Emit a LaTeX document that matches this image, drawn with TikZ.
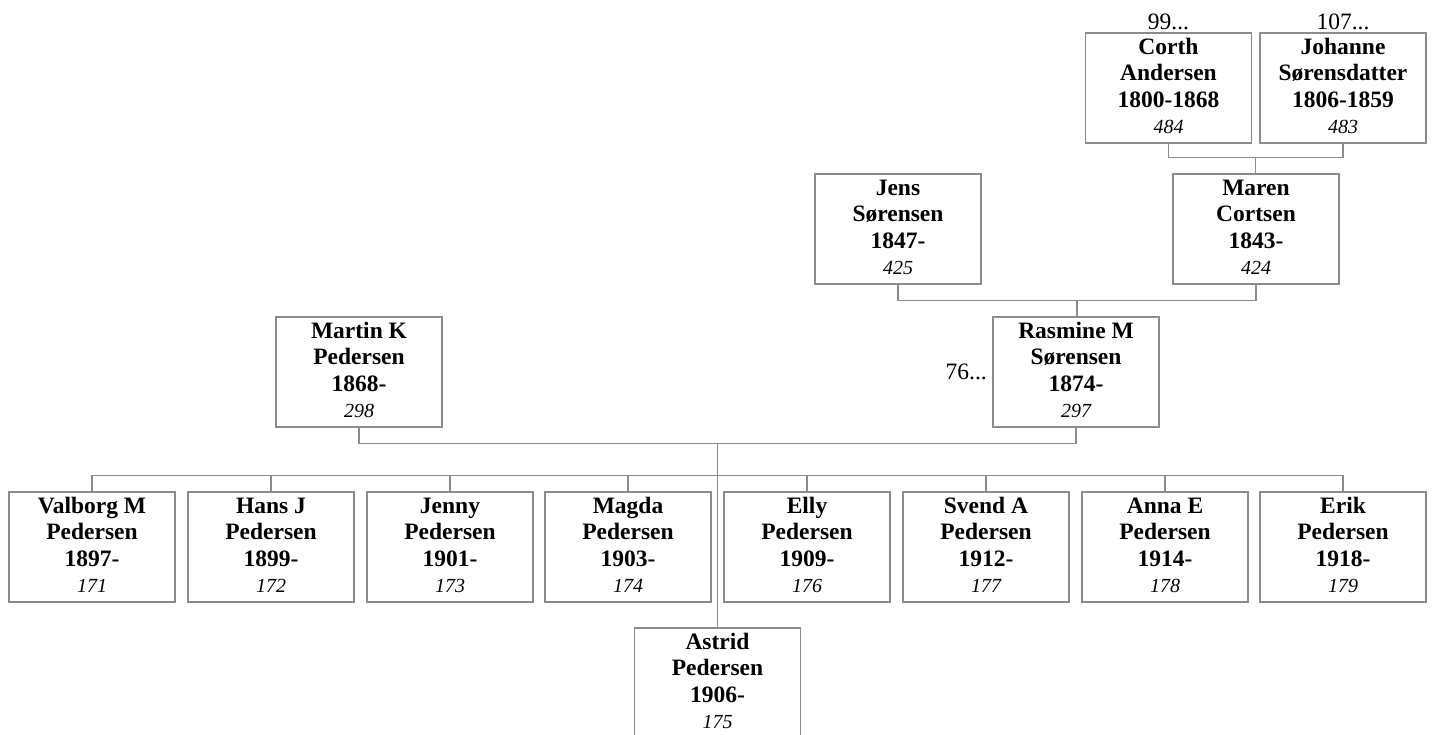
\documentclass[tikz,border=0pt]{standalone}
\usepackage{fontspec}
\setmainfont{Liberation Serif}
\usetikzlibrary{calc}
\definecolor{linegray}{RGB}{140,140,140}
\newcommand\namefont{\fontsize{23.5}{26.5}\selectfont\bfseries}
\newcommand\pfirst{\rule{0pt}{16pt}}
\newcommand\pnum[1]{{\fontsize{20}{26.5}\selectfont\mdseries\itshape #1\rule[-4pt]{0pt}{0pt}}}
\tikzset{
  person/.style={draw=linegray, line width=1.3pt, fill=white, minimum width=166pt,
    minimum height=110pt, inner sep=0pt, align=center, font=\namefont},
  conn/.style={draw=linegray, line width=1.3pt},
  ref/.style={inner sep=0pt, font=\fontsize{23.5}{26.5}\selectfont}
}
\begin{document}
\begin{tikzpicture}[x=1pt,y=-1pt]
\useasboundingbox (0,0) rectangle (1432,734);
\clip (0,0) rectangle (1432,734);
% row 0
\node[person] (corth) at (1168.5,88) {\pfirst Corth\\Andersen\\1800-1868\\\pnum{484}};
\node[person] (johanne) at (1343,88) {\pfirst Johanne\\Sørensdatter\\1806-1859\\\pnum{483}};
\node[ref, anchor=base] (r99) at (1168.5,29) {99...};
\node[ref, anchor=base] (r107) at (1343,29) {107...};
% row 1
\node[person] (jens) at (898,229) {\pfirst Jens\\Sørensen\\1847-\\\pnum{425}};
\node[person] (maren) at (1256,229) {\pfirst Maren\\Cortsen\\1843-\\\pnum{424}};
% row 2
\node[person] (martin) at (359,372) {\pfirst Martin K\\Pedersen\\1868-\\\pnum{298}};
\node[person] (rasmine) at (1076,372) {\pfirst Rasmine M\\Sørensen\\1874-\\\pnum{297}};
\node[ref, anchor=base east] (r76) at (987,379) {76...};
% children
\node[person] (valborg) at (92,547) {\pfirst Valborg M\\Pedersen\\1897-\\\pnum{171}};
\node[person] (hans) at (271,547) {\pfirst Hans J\\Pedersen\\1899-\\\pnum{172}};
\node[person] (jenny) at (450,547) {\pfirst Jenny\\Pedersen\\1901-\\\pnum{173}};
\node[person] (magda) at (628,547) {\pfirst Magda\\Pedersen\\1903-\\\pnum{174}};
\node[person] (elly) at (807,547) {\pfirst Elly\\Pedersen\\1909-\\\pnum{176}};
\node[person] (svend) at (986,547) {\pfirst Svend A\\Pedersen\\1912-\\\pnum{177}};
\node[person] (anna) at (1165,547) {\pfirst Anna E\\Pedersen\\1914-\\\pnum{178}};
\node[person] (erik) at (1343,547) {\pfirst Erik\\Pedersen\\1918-\\\pnum{179}};
\node[person] (astrid) at (717.5,683) {\pfirst Astrid\\Pedersen\\1906-\\\pnum{175}};
% connectors: Corth + Johanne -> Maren
\draw[conn] (corth.south) -- ++(0,14) -| (johanne.south);
\coordinate (c0) at ($(corth.south)!0.5!(johanne.south)+(0,14)$);
\draw[conn] (c0) -- (c0 |- maren.north);
% Jens + Maren -> Rasmine
\draw[conn] (jens.south) -- ++(0,16) -| (maren.south);
\coordinate (c1) at ($(jens.south)!0.5!(maren.south)+(0,16)$);
\draw[conn] (c1) -- (c1 |- rasmine.north);
% Martin + Rasmine -> children
\draw[conn] (martin.south) -- ++(0,16) -| (rasmine.south);
\coordinate (c2) at ($(martin.south)!0.5!(rasmine.south)+(0,16)$);
\draw[conn] (c2) -- (c2 |- astrid.north);
\draw[conn] (valborg.north) -- ++(0,-16) -| (erik.north);
\coordinate (bar) at ($(valborg.north)+(0,-16)$);
\foreach \c in {hans,jenny,magda,elly,svend,anna}
  \draw[conn] (\c.north) -- (\c.north |- bar);
\end{tikzpicture}
\end{document}
